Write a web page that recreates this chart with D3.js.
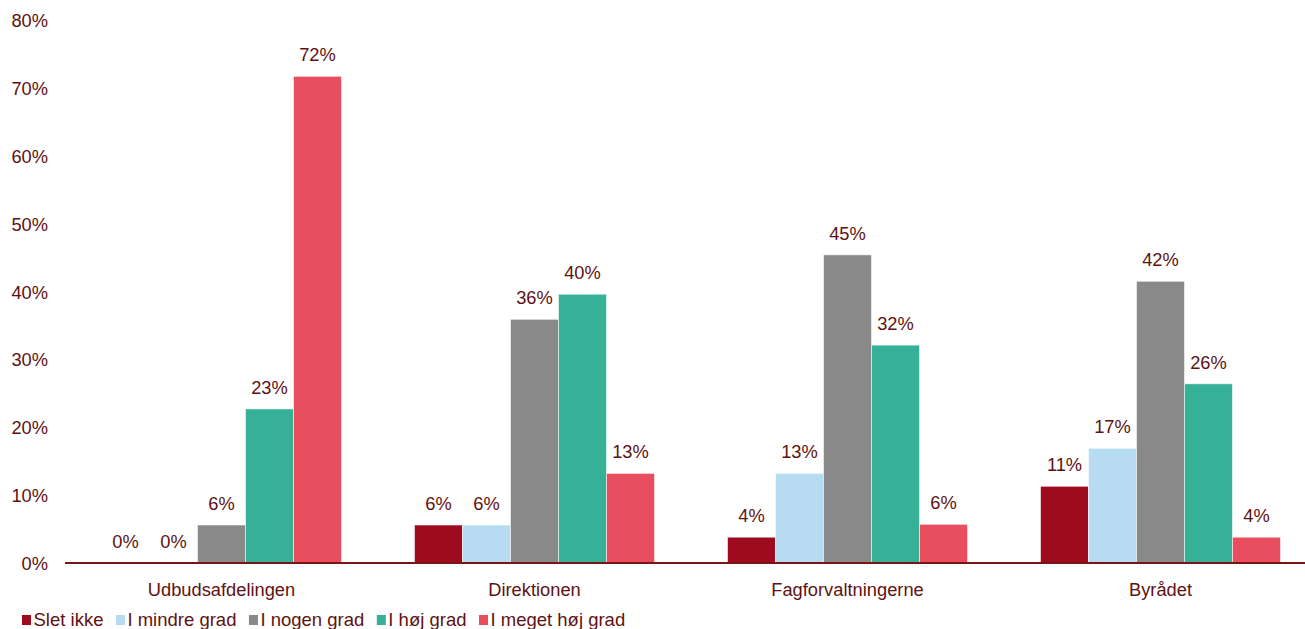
<!DOCTYPE html>
<html>
<head>
<meta charset="utf-8">
<script src="https://cdn.jsdelivr.net/npm/d3@7"></script>
<style>
  html, body { margin: 0; padding: 0; background: #fff; }
  svg { display: block; font-family: "Liberation Sans", Arial, sans-serif; }
</style>
</head>
<body>
<svg id="chart" width="1305" height="629"></svg>
<script>
const categories = ["Udbudsafdelingen", "Direktionen", "Fagforvaltningerne", "Byrådet"];
const seriesNames = ["Slet ikke", "I mindre grad", "I nogen grad", "I høj grad", "I meget høj grad"];
const sletIkke     = [0,    5.6,  3.8,  11.3];
const iMindreGrad  = [0,    5.6,  13.2, 16.9];
const iNogenGrad   = [5.6,  35.9, 45.4, 41.5];
const iHoejGrad    = [22.7, 39.6, 32.1, 26.4];
const iMegetHoej   = [71.7, 13.2, 5.7,  3.8];
const barLabels = [
  ["0%", "6%", "4%", "11%"],
  ["0%", "6%", "13%", "17%"],
  ["6%", "36%", "45%", "42%"],
  ["23%", "40%", "32%", "26%"],
  ["72%", "13%", "6%", "4%"]
];
const yTicks = [0, 10, 20, 30, 40, 50, 60, 70, 80];
const colors = ["#9E0B1F", "#B7DCF2", "#898989", "#36B198", "#E94E5F"];

const seriesValues = [sletIkke, iMindreGrad, iNogenGrad, iHoejGrad, iMegetHoej];
const textColor = "#5E1212";
const fontSize = "18.3px";

const svg = d3.select("#chart");
const plotLeft = 65, plotRight = 1317, plotTop = 20, plotBottom = 563;

const x0 = d3.scaleBand().domain(categories).range([plotLeft, plotRight])
  .paddingInner(73 / 313).paddingOuter(36.5 / 313);
const x1 = d3.scaleBand().domain(seriesNames).range([0, x0.bandwidth()]).padding(0);
const y = d3.scaleLinear().domain([0, 80]).range([plotBottom, plotTop]);

// Y axis labels
const yAxis = d3.axisLeft(y).tickValues(yTicks).tickFormat(d => d + "%").tickSize(0).tickPadding(0);
const yg = svg.append("g").attr("transform", "translate(48,0)").call(yAxis);
yg.select(".domain").remove();
yg.selectAll("text").attr("fill", textColor).style("font-size", fontSize)
  .style("font-family", "'Liberation Sans', Arial, sans-serif").attr("dy", "0.36em");

// Bars
const groups = svg.append("g").selectAll("g")
  .data(seriesNames)
  .join("g")
  .attr("fill", (d, i) => colors[i]);

groups.each(function (sName, si) {
  const g = d3.select(this);
  const vals = seriesValues[si];
  g.selectAll("rect")
    .data(categories.map((c, ci) => ({ c, v: vals[ci] })))
    .join("rect")
    .attr("x", d => x0(d.c) + x1(sName))
    .attr("y", d => y(d.v))
    .attr("width", x1.bandwidth())
    .attr("height", d => y(0) - y(d.v))
    .attr("stroke", "rgba(255,255,255,0.55)")
    .attr("stroke-width", 1);
  g.selectAll("text")
    .data(categories.map((c, ci) => ({ c, v: vals[ci], l: barLabels[si][ci] })))
    .join("text")
    .attr("x", d => x0(d.c) + x1(sName) + x1.bandwidth() / 2)
    .attr("y", d => y(d.v) - 15)
    .attr("text-anchor", "middle")
    .attr("fill", textColor)
    .style("font-size", fontSize)
    .text(d => d.l);
});

// X axis
const xAxis = d3.axisBottom(x0).tickSize(0).tickPadding(0);
const xg = svg.append("g").attr("transform", `translate(0,${plotBottom})`).call(xAxis);
xg.select(".domain").attr("stroke", "#7A1515").attr("stroke-width", 2)
  .attr("d", `M${plotLeft},0H${plotRight}`);
xg.selectAll("text").attr("fill", textColor).style("font-size", fontSize)
  .style("font-family", "'Liberation Sans', Arial, sans-serif")
  .attr("dy", null).attr("y", 33);

// Legend
const legend = svg.append("g").attr("transform", "translate(22,0)");
let lx = 0;
seriesNames.forEach((name, i) => {
  legend.append("rect").attr("x", lx).attr("y", 615).attr("width", 9).attr("height", 10)
    .attr("fill", colors[i]);
  const t = legend.append("text").attr("x", lx + 11.5).attr("y", 626)
    .attr("fill", textColor).style("font-size", "18.5px").text(name);
  lx += 11.5 + t.node().getComputedTextLength() + 12.5;
});
</script>
</body>
</html>
